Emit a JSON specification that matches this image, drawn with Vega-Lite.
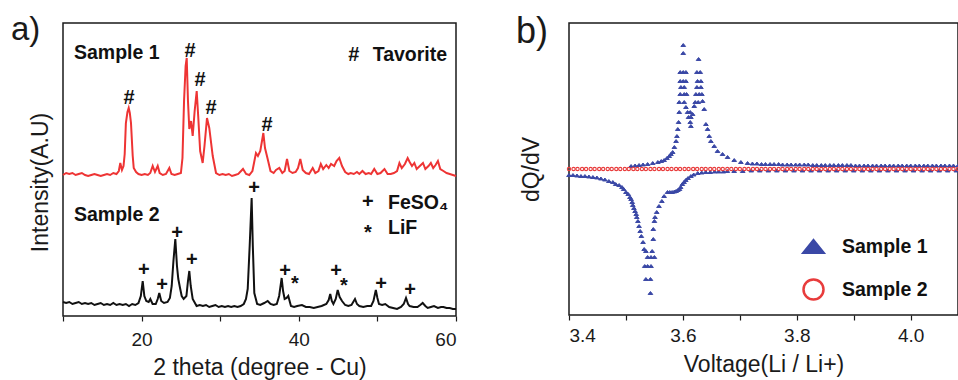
{
  "$schema": "https://vega.github.io/schema/vega-lite/v6.json",
  "background": "white",
  "padding": {"left": 10, "top": 13, "right": 0, "bottom": 0},
  "bounds": "flush",
  "spacing": 113,
  "config": {
    "font": "Liberation Sans",
    "view": {"stroke": "#1a1a1a", "strokeWidth": 1.5},
    "axis": {"domain": false, "grid": false, "tickColor": "#1a1a1a", "tickWidth": 1.2, "tickSize": 5, "labelFont": "Liberation Sans", "labelFontSize": 19, "labelColor": "#1a1a1a", "labelPadding": 4, "titleFont": "Liberation Sans", "titleFontSize": 23, "titleFontWeight": "normal", "titleColor": "#1a1a1a"},
    "title": {"font": "Liberation Sans", "fontWeight": "normal", "anchor": "start", "frame": "group", "baseline": "alphabetic", "color": "#1a1a1a"},
    "legend": {"title": null, "orient": "none", "legendX": 233, "legendY": 212, "symbolSize": 400, "symbolStrokeWidth": 2.5, "labelFont": "Liberation Sans", "labelFontSize": 19.5, "labelFontWeight": "bold", "labelColor": "#111111", "labelOffset": 17, "rowPadding": 16}
  },
  "resolve": {"scale": {"color": "independent", "shape": "independent", "fill": "independent", "stroke": "independent"}},
  "datasets": {
    "xrd": [
      {"sample":"Sample 1","theta":10,"intensity":141},{"sample":"Sample 1","theta":10.4,"intensity":143},{"sample":"Sample 1","theta":10.8,"intensity":142},{"sample":"Sample 1","theta":11.2,"intensity":143},{"sample":"Sample 1","theta":11.6,"intensity":141},{"sample":"Sample 1","theta":12,"intensity":142},{"sample":"Sample 1","theta":12.4,"intensity":143},{"sample":"Sample 1","theta":12.8,"intensity":141},{"sample":"Sample 1","theta":13.2,"intensity":140},{"sample":"Sample 1","theta":13.6,"intensity":141},{"sample":"Sample 1","theta":14,"intensity":142},{"sample":"Sample 1","theta":14.4,"intensity":141},{"sample":"Sample 1","theta":14.8,"intensity":140},{"sample":"Sample 1","theta":15.2,"intensity":141},{"sample":"Sample 1","theta":15.6,"intensity":142},{"sample":"Sample 1","theta":16,"intensity":141},{"sample":"Sample 1","theta":16.4,"intensity":143},{"sample":"Sample 1","theta":16.8,"intensity":142},{"sample":"Sample 1","theta":17.1,"intensity":145},{"sample":"Sample 1","theta":17.29,"intensity":153},{"sample":"Sample 1","theta":17.5,"intensity":146},{"sample":"Sample 1","theta":17.7,"intensity":150},{"sample":"Sample 1","theta":17.85,"intensity":162},{"sample":"Sample 1","theta":18.0,"intensity":193},{"sample":"Sample 1","theta":18.2,"intensity":204},{"sample":"Sample 1","theta":18.36,"intensity":208},{"sample":"Sample 1","theta":18.5,"intensity":203},{"sample":"Sample 1","theta":18.65,"intensity":193},{"sample":"Sample 1","theta":18.87,"intensity":160},{"sample":"Sample 1","theta":19.0,"intensity":148},{"sample":"Sample 1","theta":19.3,"intensity":144},{"sample":"Sample 1","theta":19.6,"intensity":142},{"sample":"Sample 1","theta":20,"intensity":141},{"sample":"Sample 1","theta":20.4,"intensity":142},{"sample":"Sample 1","theta":20.8,"intensity":141},{"sample":"Sample 1","theta":21.1,"intensity":143},{"sample":"Sample 1","theta":21.41,"intensity":150},{"sample":"Sample 1","theta":21.7,"intensity":144},{"sample":"Sample 1","theta":22.05,"intensity":150},{"sample":"Sample 1","theta":22.3,"intensity":143},{"sample":"Sample 1","theta":22.7,"intensity":141},{"sample":"Sample 1","theta":23.1,"intensity":142},{"sample":"Sample 1","theta":23.53,"intensity":148},{"sample":"Sample 1","theta":23.8,"intensity":142},{"sample":"Sample 1","theta":24.2,"intensity":141},{"sample":"Sample 1","theta":24.6,"intensity":142},{"sample":"Sample 1","theta":25.0,"intensity":143},{"sample":"Sample 1","theta":25.2,"intensity":158},{"sample":"Sample 1","theta":25.4,"intensity":215},{"sample":"Sample 1","theta":25.6,"intensity":250},{"sample":"Sample 1","theta":25.74,"intensity":258},{"sample":"Sample 1","theta":25.9,"intensity":215},{"sample":"Sample 1","theta":26.07,"intensity":187},{"sample":"Sample 1","theta":26.29,"intensity":195},{"sample":"Sample 1","theta":26.5,"intensity":180},{"sample":"Sample 1","theta":26.75,"intensity":205},{"sample":"Sample 1","theta":27.01,"intensity":225},{"sample":"Sample 1","theta":27.2,"intensity":200},{"sample":"Sample 1","theta":27.45,"intensity":165},{"sample":"Sample 1","theta":27.77,"intensity":153},{"sample":"Sample 1","theta":28.0,"intensity":170},{"sample":"Sample 1","theta":28.32,"intensity":198},{"sample":"Sample 1","theta":28.61,"intensity":188},{"sample":"Sample 1","theta":29.05,"intensity":160},{"sample":"Sample 1","theta":29.47,"intensity":143},{"sample":"Sample 1","theta":29.9,"intensity":141},{"sample":"Sample 1","theta":30.3,"intensity":142},{"sample":"Sample 1","theta":30.7,"intensity":141},{"sample":"Sample 1","theta":31.1,"intensity":142},{"sample":"Sample 1","theta":31.5,"intensity":140},{"sample":"Sample 1","theta":31.9,"intensity":141},{"sample":"Sample 1","theta":32.3,"intensity":142},{"sample":"Sample 1","theta":32.9,"intensity":147},{"sample":"Sample 1","theta":33.3,"intensity":142},{"sample":"Sample 1","theta":33.7,"intensity":141},{"sample":"Sample 1","theta":34.1,"intensity":145},{"sample":"Sample 1","theta":34.55,"intensity":163},{"sample":"Sample 1","theta":34.8,"intensity":160},{"sample":"Sample 1","theta":35.1,"intensity":165},{"sample":"Sample 1","theta":35.49,"intensity":183},{"sample":"Sample 1","theta":35.7,"intensity":168},{"sample":"Sample 1","theta":36.04,"intensity":157},{"sample":"Sample 1","theta":36.4,"intensity":145},{"sample":"Sample 1","theta":36.8,"intensity":143},{"sample":"Sample 1","theta":37.1,"intensity":146},{"sample":"Sample 1","theta":37.52,"intensity":148},{"sample":"Sample 1","theta":37.9,"intensity":143},{"sample":"Sample 1","theta":38.2,"intensity":145},{"sample":"Sample 1","theta":38.5,"intensity":157},{"sample":"Sample 1","theta":38.8,"intensity":145},{"sample":"Sample 1","theta":39.2,"intensity":143},{"sample":"Sample 1","theta":39.6,"intensity":144},{"sample":"Sample 1","theta":39.9,"intensity":148},{"sample":"Sample 1","theta":40.19,"intensity":157},{"sample":"Sample 1","theta":40.5,"intensity":146},{"sample":"Sample 1","theta":40.9,"intensity":143},{"sample":"Sample 1","theta":41.3,"intensity":142},{"sample":"Sample 1","theta":41.77,"intensity":148},{"sample":"Sample 1","theta":42.1,"intensity":143},{"sample":"Sample 1","theta":42.5,"intensity":145},{"sample":"Sample 1","theta":42.8,"intensity":152},{"sample":"Sample 1","theta":43.1,"intensity":147},{"sample":"Sample 1","theta":43.5,"intensity":151},{"sample":"Sample 1","theta":43.8,"intensity":148},{"sample":"Sample 1","theta":44.1,"intensity":152},{"sample":"Sample 1","theta":44.5,"intensity":150},{"sample":"Sample 1","theta":44.8,"intensity":155},{"sample":"Sample 1","theta":45.15,"intensity":158},{"sample":"Sample 1","theta":45.5,"intensity":150},{"sample":"Sample 1","theta":45.9,"intensity":144},{"sample":"Sample 1","theta":46.3,"intensity":142},{"sample":"Sample 1","theta":46.6,"intensity":143},{"sample":"Sample 1","theta":47.0,"intensity":142},{"sample":"Sample 1","theta":47.4,"intensity":144},{"sample":"Sample 1","theta":47.7,"intensity":142},{"sample":"Sample 1","theta":48.1,"intensity":145},{"sample":"Sample 1","theta":48.5,"intensity":142},{"sample":"Sample 1","theta":48.9,"intensity":143},{"sample":"Sample 1","theta":49.2,"intensity":142},{"sample":"Sample 1","theta":49.6,"intensity":147},{"sample":"Sample 1","theta":50.0,"intensity":142},{"sample":"Sample 1","theta":50.4,"intensity":143},{"sample":"Sample 1","theta":50.9,"intensity":147},{"sample":"Sample 1","theta":51.3,"intensity":142},{"sample":"Sample 1","theta":51.7,"intensity":142},{"sample":"Sample 1","theta":52.1,"intensity":143},{"sample":"Sample 1","theta":52.5,"intensity":145},{"sample":"Sample 1","theta":52.8,"intensity":153},{"sample":"Sample 1","theta":53.1,"intensity":148},{"sample":"Sample 1","theta":53.5,"intensity":152},{"sample":"Sample 1","theta":53.85,"intensity":158},{"sample":"Sample 1","theta":54.1,"intensity":154},{"sample":"Sample 1","theta":54.4,"intensity":150},{"sample":"Sample 1","theta":54.7,"intensity":153},{"sample":"Sample 1","theta":55.0,"intensity":147},{"sample":"Sample 1","theta":55.4,"intensity":150},{"sample":"Sample 1","theta":55.8,"intensity":153},{"sample":"Sample 1","theta":56.1,"intensity":147},{"sample":"Sample 1","theta":56.5,"intensity":150},{"sample":"Sample 1","theta":56.8,"intensity":153},{"sample":"Sample 1","theta":57.1,"intensity":148},{"sample":"Sample 1","theta":57.4,"intensity":151},{"sample":"Sample 1","theta":57.7,"intensity":155},{"sample":"Sample 1","theta":58.0,"intensity":147},{"sample":"Sample 1","theta":58.4,"intensity":145},{"sample":"Sample 1","theta":58.8,"intensity":143},{"sample":"Sample 1","theta":59.2,"intensity":142},{"sample":"Sample 1","theta":59.6,"intensity":141},{"sample":"Sample 1","theta":60,"intensity":140},
      {"sample":"Sample 2","theta":10,"intensity":14},{"sample":"Sample 2","theta":10.4,"intensity":13},{"sample":"Sample 2","theta":10.8,"intensity":14},{"sample":"Sample 2","theta":11.2,"intensity":12},{"sample":"Sample 2","theta":11.6,"intensity":13},{"sample":"Sample 2","theta":12,"intensity":14},{"sample":"Sample 2","theta":12.4,"intensity":12},{"sample":"Sample 2","theta":12.8,"intensity":13},{"sample":"Sample 2","theta":13.2,"intensity":12},{"sample":"Sample 2","theta":13.6,"intensity":13},{"sample":"Sample 2","theta":14,"intensity":11},{"sample":"Sample 2","theta":14.4,"intensity":12},{"sample":"Sample 2","theta":14.8,"intensity":13},{"sample":"Sample 2","theta":15.2,"intensity":11},{"sample":"Sample 2","theta":15.6,"intensity":12},{"sample":"Sample 2","theta":16,"intensity":11},{"sample":"Sample 2","theta":16.4,"intensity":13},{"sample":"Sample 2","theta":16.8,"intensity":11},{"sample":"Sample 2","theta":17.2,"intensity":12},{"sample":"Sample 2","theta":17.6,"intensity":11},{"sample":"Sample 2","theta":18,"intensity":12},{"sample":"Sample 2","theta":18.4,"intensity":10},{"sample":"Sample 2","theta":18.8,"intensity":12},{"sample":"Sample 2","theta":19.2,"intensity":11},{"sample":"Sample 2","theta":19.6,"intensity":13},{"sample":"Sample 2","theta":19.9,"intensity":20},{"sample":"Sample 2","theta":20.14,"intensity":35},{"sample":"Sample 2","theta":20.35,"intensity":20},{"sample":"Sample 2","theta":20.6,"intensity":15},{"sample":"Sample 2","theta":20.9,"intensity":14},{"sample":"Sample 2","theta":21.11,"intensity":17},{"sample":"Sample 2","theta":21.4,"intensity":12},{"sample":"Sample 2","theta":21.8,"intensity":12},{"sample":"Sample 2","theta":22.05,"intensity":17},{"sample":"Sample 2","theta":22.25,"intensity":23},{"sample":"Sample 2","theta":22.5,"intensity":15},{"sample":"Sample 2","theta":22.85,"intensity":13},{"sample":"Sample 2","theta":23.3,"intensity":14},{"sample":"Sample 2","theta":23.6,"intensity":18},{"sample":"Sample 2","theta":23.83,"intensity":30},{"sample":"Sample 2","theta":24.05,"intensity":55},{"sample":"Sample 2","theta":24.29,"intensity":77},{"sample":"Sample 2","theta":24.5,"intensity":50},{"sample":"Sample 2","theta":24.67,"intensity":37},{"sample":"Sample 2","theta":24.89,"intensity":28},{"sample":"Sample 2","theta":25.1,"intensity":20},{"sample":"Sample 2","theta":25.35,"intensity":17},{"sample":"Sample 2","theta":25.7,"intensity":20},{"sample":"Sample 2","theta":25.9,"intensity":35},{"sample":"Sample 2","theta":26.07,"intensity":45},{"sample":"Sample 2","theta":26.25,"intensity":30},{"sample":"Sample 2","theta":26.5,"intensity":17},{"sample":"Sample 2","theta":27,"intensity":10},{"sample":"Sample 2","theta":27.4,"intensity":11},{"sample":"Sample 2","theta":27.8,"intensity":10},{"sample":"Sample 2","theta":28.2,"intensity":11},{"sample":"Sample 2","theta":28.6,"intensity":9},{"sample":"Sample 2","theta":29,"intensity":10},{"sample":"Sample 2","theta":29.4,"intensity":11},{"sample":"Sample 2","theta":29.8,"intensity":9},{"sample":"Sample 2","theta":30.2,"intensity":10},{"sample":"Sample 2","theta":30.6,"intensity":9},{"sample":"Sample 2","theta":31,"intensity":10},{"sample":"Sample 2","theta":31.4,"intensity":9},{"sample":"Sample 2","theta":31.8,"intensity":10},{"sample":"Sample 2","theta":32.2,"intensity":9},{"sample":"Sample 2","theta":32.6,"intensity":10},{"sample":"Sample 2","theta":33,"intensity":12},{"sample":"Sample 2","theta":33.28,"intensity":17},{"sample":"Sample 2","theta":33.5,"intensity":27},{"sample":"Sample 2","theta":33.75,"intensity":70},{"sample":"Sample 2","theta":34.0,"intensity":118},{"sample":"Sample 2","theta":34.15,"intensity":70},{"sample":"Sample 2","theta":34.34,"intensity":23},{"sample":"Sample 2","theta":34.7,"intensity":12},{"sample":"Sample 2","theta":35.1,"intensity":11},{"sample":"Sample 2","theta":35.6,"intensity":13},{"sample":"Sample 2","theta":36.04,"intensity":15},{"sample":"Sample 2","theta":36.4,"intensity":12},{"sample":"Sample 2","theta":36.8,"intensity":11},{"sample":"Sample 2","theta":37.2,"intensity":12},{"sample":"Sample 2","theta":37.5,"intensity":20},{"sample":"Sample 2","theta":37.82,"intensity":38},{"sample":"Sample 2","theta":38.0,"intensity":25},{"sample":"Sample 2","theta":38.2,"intensity":17},{"sample":"Sample 2","theta":38.45,"intensity":18},{"sample":"Sample 2","theta":38.66,"intensity":20},{"sample":"Sample 2","theta":39.0,"intensity":10},{"sample":"Sample 2","theta":39.4,"intensity":9},{"sample":"Sample 2","theta":39.8,"intensity":10},{"sample":"Sample 2","theta":40.4,"intensity":11},{"sample":"Sample 2","theta":40.9,"intensity":9},{"sample":"Sample 2","theta":41.4,"intensity":9},{"sample":"Sample 2","theta":41.9,"intensity":8},{"sample":"Sample 2","theta":42.4,"intensity":9},{"sample":"Sample 2","theta":42.9,"intensity":10},{"sample":"Sample 2","theta":43.5,"intensity":12},{"sample":"Sample 2","theta":43.8,"intensity":16},{"sample":"Sample 2","theta":44.0,"intensity":22},{"sample":"Sample 2","theta":44.2,"intensity":15},{"sample":"Sample 2","theta":44.4,"intensity":12},{"sample":"Sample 2","theta":44.7,"intensity":17},{"sample":"Sample 2","theta":44.95,"intensity":26},{"sample":"Sample 2","theta":45.2,"intensity":19},{"sample":"Sample 2","theta":45.5,"intensity":15},{"sample":"Sample 2","theta":45.9,"intensity":11},{"sample":"Sample 2","theta":46.3,"intensity":10},{"sample":"Sample 2","theta":46.7,"intensity":11},{"sample":"Sample 2","theta":47.15,"intensity":17},{"sample":"Sample 2","theta":47.4,"intensity":12},{"sample":"Sample 2","theta":47.7,"intensity":10},{"sample":"Sample 2","theta":48.2,"intensity":9},{"sample":"Sample 2","theta":48.7,"intensity":10},{"sample":"Sample 2","theta":49.2,"intensity":10},{"sample":"Sample 2","theta":49.5,"intensity":15},{"sample":"Sample 2","theta":49.8,"intensity":26},{"sample":"Sample 2","theta":50.0,"intensity":18},{"sample":"Sample 2","theta":50.2,"intensity":12},{"sample":"Sample 2","theta":50.6,"intensity":11},{"sample":"Sample 2","theta":51.0,"intensity":12},{"sample":"Sample 2","theta":51.5,"intensity":9},{"sample":"Sample 2","theta":52.0,"intensity":8},{"sample":"Sample 2","theta":52.5,"intensity":7},{"sample":"Sample 2","theta":53.0,"intensity":9},{"sample":"Sample 2","theta":53.35,"intensity":12},{"sample":"Sample 2","theta":53.64,"intensity":18},{"sample":"Sample 2","theta":53.9,"intensity":12},{"sample":"Sample 2","theta":54.1,"intensity":10},{"sample":"Sample 2","theta":54.6,"intensity":9},{"sample":"Sample 2","theta":55.1,"intensity":9},{"sample":"Sample 2","theta":55.45,"intensity":11},{"sample":"Sample 2","theta":55.76,"intensity":13},{"sample":"Sample 2","theta":56.1,"intensity":10},{"sample":"Sample 2","theta":56.4,"intensity":8},{"sample":"Sample 2","theta":56.8,"intensity":9},{"sample":"Sample 2","theta":57.2,"intensity":10},{"sample":"Sample 2","theta":57.7,"intensity":8},{"sample":"Sample 2","theta":58.1,"intensity":9},{"sample":"Sample 2","theta":58.4,"intensity":9},{"sample":"Sample 2","theta":58.8,"intensity":8},{"sample":"Sample 2","theta":59.2,"intensity":8},{"sample":"Sample 2","theta":59.6,"intensity":7},{"sample":"Sample 2","theta":60,"intensity":7}
    ],
    "xrdLabels": [
      {"role":"marker","text":"#","theta":18.4,"intensity":212},
      {"role":"marker","text":"#","theta":26.16,"intensity":259},
      {"role":"marker","text":"#","theta":27.43,"intensity":230},
      {"role":"marker","text":"#","theta":28.83,"intensity":202},
      {"role":"marker","text":"#","theta":35.95,"intensity":185},
      {"role":"marker","text":"#","theta":47.0,"intensity":255},
      {"role":"label","text":"Tavorite","theta":49.4,"intensity":255},
      {"role":"label","text":"Sample 1","theta":11.4,"intensity":257},
      {"role":"label","text":"Sample 2","theta":11.4,"intensity":95},
      {"role":"marker","text":"+","theta":34.3,"intensity":122},
      {"role":"marker","text":"+","theta":20.3,"intensity":40},
      {"role":"marker","text":"+","theta":22.6,"intensity":25},
      {"role":"marker","text":"+","theta":24.5,"intensity":77},
      {"role":"marker","text":"+","theta":26.4,"intensity":50},
      {"role":"marker","text":"+","theta":38.25,"intensity":39},
      {"role":"marker","text":"*","theta":39.5,"intensity":26},
      {"role":"marker","text":"+","theta":44.73,"intensity":39},
      {"role":"marker","text":"*","theta":45.75,"intensity":24},
      {"role":"marker","text":"+","theta":50.46,"intensity":26},
      {"role":"marker","text":"+","theta":54.15,"intensity":20},
      {"role":"marker","text":"+","theta":48.8,"intensity":108},
      {"role":"label","text":"FeSO₄","theta":51.35,"intensity":107},
      {"role":"marker","text":"*","theta":48.8,"intensity":77},
      {"role":"label","text":"LiF","theta":51.35,"intensity":82}
    ],
    "dqdv": [
      {"sample":"Sample 1","voltage":3.400,"dQdV":-6},{"sample":"Sample 1","voltage":3.407,"dQdV":-6},{"sample":"Sample 1","voltage":3.414,"dQdV":-6.5},{"sample":"Sample 1","voltage":3.421,"dQdV":-7},{"sample":"Sample 1","voltage":3.428,"dQdV":-7},{"sample":"Sample 1","voltage":3.435,"dQdV":-7.5},{"sample":"Sample 1","voltage":3.442,"dQdV":-8},{"sample":"Sample 1","voltage":3.449,"dQdV":-8.5},{"sample":"Sample 1","voltage":3.456,"dQdV":-9.5},{"sample":"Sample 1","voltage":3.463,"dQdV":-10.5},{"sample":"Sample 1","voltage":3.470,"dQdV":-12},{"sample":"Sample 1","voltage":3.477,"dQdV":-13},{"sample":"Sample 1","voltage":3.482,"dQdV":-15},{"sample":"Sample 1","voltage":3.488,"dQdV":-16},{"sample":"Sample 1","voltage":3.493,"dQdV":-18},{"sample":"Sample 1","voltage":3.496,"dQdV":-20},{"sample":"Sample 1","voltage":3.500,"dQdV":-23},{"sample":"Sample 1","voltage":3.504,"dQdV":-25},{"sample":"Sample 1","voltage":3.507,"dQdV":-28},{"sample":"Sample 1","voltage":3.509,"dQdV":-30},{"sample":"Sample 1","voltage":3.511,"dQdV":-33},{"sample":"Sample 1","voltage":3.512,"dQdV":-36},{"sample":"Sample 1","voltage":3.514,"dQdV":-39},{"sample":"Sample 1","voltage":3.516,"dQdV":-42},{"sample":"Sample 1","voltage":3.518,"dQdV":-45},{"sample":"Sample 1","voltage":3.519,"dQdV":-48},{"sample":"Sample 1","voltage":3.521,"dQdV":-52},{"sample":"Sample 1","voltage":3.523,"dQdV":-57},{"sample":"Sample 1","voltage":3.525,"dQdV":-62},{"sample":"Sample 1","voltage":3.527,"dQdV":-67},{"sample":"Sample 1","voltage":3.530,"dQdV":-73},{"sample":"Sample 1","voltage":3.532,"dQdV":-80},{"sample":"Sample 1","voltage":3.533,"dQdV":-97},{"sample":"Sample 1","voltage":3.538,"dQdV":-97},{"sample":"Sample 1","voltage":3.544,"dQdV":-97},{"sample":"Sample 1","voltage":3.538,"dQdV":-88},{"sample":"Sample 1","voltage":3.544,"dQdV":-88},{"sample":"Sample 1","voltage":3.550,"dQdV":-88},{"sample":"Sample 1","voltage":3.535,"dQdV":-82},{"sample":"Sample 1","voltage":3.546,"dQdV":-82},{"sample":"Sample 1","voltage":3.535,"dQdV":-110},{"sample":"Sample 1","voltage":3.543,"dQdV":-110},{"sample":"Sample 1","voltage":3.543,"dQdV":-124},{"sample":"Sample 1","voltage":3.548,"dQdV":-70},{"sample":"Sample 1","voltage":3.548,"dQdV":-60},{"sample":"Sample 1","voltage":3.550,"dQdV":-52},{"sample":"Sample 1","voltage":3.551,"dQdV":-48},{"sample":"Sample 1","voltage":3.554,"dQdV":-43},{"sample":"Sample 1","voltage":3.558,"dQdV":-37},{"sample":"Sample 1","voltage":3.563,"dQdV":-32},{"sample":"Sample 1","voltage":3.567,"dQdV":-27},{"sample":"Sample 1","voltage":3.573,"dQdV":-23},{"sample":"Sample 1","voltage":3.577,"dQdV":-23},{"sample":"Sample 1","voltage":3.581,"dQdV":-23},{"sample":"Sample 1","voltage":3.585,"dQdV":-22.5},{"sample":"Sample 1","voltage":3.588,"dQdV":-22},{"sample":"Sample 1","voltage":3.591,"dQdV":-21},{"sample":"Sample 1","voltage":3.594,"dQdV":-20},{"sample":"Sample 1","voltage":3.596,"dQdV":-18},{"sample":"Sample 1","voltage":3.599,"dQdV":-15},{"sample":"Sample 1","voltage":3.602,"dQdV":-13},{"sample":"Sample 1","voltage":3.605,"dQdV":-11},{"sample":"Sample 1","voltage":3.609,"dQdV":-9},{"sample":"Sample 1","voltage":3.614,"dQdV":-7},{"sample":"Sample 1","voltage":3.619,"dQdV":-5.5},{"sample":"Sample 1","voltage":3.626,"dQdV":-4},{"sample":"Sample 1","voltage":3.633,"dQdV":-3.5},{"sample":"Sample 1","voltage":3.640,"dQdV":-3},{"sample":"Sample 1","voltage":3.648,"dQdV":-3},{"sample":"Sample 1","voltage":3.656,"dQdV":-2.5},{"sample":"Sample 1","voltage":3.663,"dQdV":-2.5},{"sample":"Sample 1","voltage":3.671,"dQdV":-2.5},{"sample":"Sample 1","voltage":3.678,"dQdV":-2},{"sample":"Sample 1","voltage":3.690,"dQdV":-2},{"sample":"Sample 1","voltage":3.705,"dQdV":-2},{"sample":"Sample 1","voltage":3.720,"dQdV":-1.5},{"sample":"Sample 1","voltage":3.735,"dQdV":-1.5},{"sample":"Sample 1","voltage":3.750,"dQdV":-1.5},{"sample":"Sample 1","voltage":3.765,"dQdV":-1.5},{"sample":"Sample 1","voltage":3.780,"dQdV":-1.5},{"sample":"Sample 1","voltage":3.795,"dQdV":-1.5},{"sample":"Sample 1","voltage":3.810,"dQdV":-1.5},{"sample":"Sample 1","voltage":3.825,"dQdV":-1.5},{"sample":"Sample 1","voltage":3.840,"dQdV":-1.5},{"sample":"Sample 1","voltage":3.855,"dQdV":-1.5},{"sample":"Sample 1","voltage":3.870,"dQdV":-1.5},{"sample":"Sample 1","voltage":3.885,"dQdV":-1.5},{"sample":"Sample 1","voltage":3.900,"dQdV":-1.5},{"sample":"Sample 1","voltage":3.915,"dQdV":-1.5},{"sample":"Sample 1","voltage":3.930,"dQdV":-1.5},{"sample":"Sample 1","voltage":3.945,"dQdV":-1.5},{"sample":"Sample 1","voltage":3.960,"dQdV":-1.5},{"sample":"Sample 1","voltage":3.975,"dQdV":-1.5},{"sample":"Sample 1","voltage":3.990,"dQdV":-1.5},{"sample":"Sample 1","voltage":4.005,"dQdV":-1.5},{"sample":"Sample 1","voltage":4.020,"dQdV":-1.5},{"sample":"Sample 1","voltage":4.035,"dQdV":-1.5},{"sample":"Sample 1","voltage":4.050,"dQdV":-1.5},{"sample":"Sample 1","voltage":4.065,"dQdV":-1.5},{"sample":"Sample 1","voltage":4.080,"dQdV":-1.5},
      {"sample":"Sample 1","voltage":3.509,"dQdV":3},{"sample":"Sample 1","voltage":3.516,"dQdV":3.5},{"sample":"Sample 1","voltage":3.523,"dQdV":4},{"sample":"Sample 1","voltage":3.530,"dQdV":4.5},{"sample":"Sample 1","voltage":3.538,"dQdV":5},{"sample":"Sample 1","voltage":3.547,"dQdV":6},{"sample":"Sample 1","voltage":3.556,"dQdV":7},{"sample":"Sample 1","voltage":3.562,"dQdV":8},{"sample":"Sample 1","voltage":3.567,"dQdV":9},{"sample":"Sample 1","voltage":3.572,"dQdV":11},{"sample":"Sample 1","voltage":3.576,"dQdV":13},{"sample":"Sample 1","voltage":3.579,"dQdV":15},{"sample":"Sample 1","voltage":3.582,"dQdV":17},{"sample":"Sample 1","voltage":3.585,"dQdV":22},{"sample":"Sample 1","voltage":3.588,"dQdV":28},{"sample":"Sample 1","voltage":3.5895,"dQdV":33},{"sample":"Sample 1","voltage":3.591,"dQdV":40},{"sample":"Sample 1","voltage":3.5924,"dQdV":47},{"sample":"Sample 1","voltage":3.5936,"dQdV":57},{"sample":"Sample 1","voltage":3.5936,"dQdV":67},{"sample":"Sample 1","voltage":3.6023,"dQdV":67},{"sample":"Sample 1","voltage":3.5953,"dQdV":75},{"sample":"Sample 1","voltage":3.6023,"dQdV":75},{"sample":"Sample 1","voltage":3.6064,"dQdV":75},{"sample":"Sample 1","voltage":3.5965,"dQdV":82},{"sample":"Sample 1","voltage":3.6023,"dQdV":82},{"sample":"Sample 1","voltage":3.5953,"dQdV":88},{"sample":"Sample 1","voltage":3.6006,"dQdV":88},{"sample":"Sample 1","voltage":3.6053,"dQdV":88},{"sample":"Sample 1","voltage":3.5953,"dQdV":97},{"sample":"Sample 1","voltage":3.6006,"dQdV":97},{"sample":"Sample 1","voltage":3.6053,"dQdV":97},{"sample":"Sample 1","voltage":3.6006,"dQdV":116},{"sample":"Sample 1","voltage":3.6006,"dQdV":124},{"sample":"Sample 1","voltage":3.6053,"dQdV":62},{"sample":"Sample 1","voltage":3.6082,"dQdV":57},{"sample":"Sample 1","voltage":3.6129,"dQdV":57},{"sample":"Sample 1","voltage":3.6099,"dQdV":52},{"sample":"Sample 1","voltage":3.614,"dQdV":52},{"sample":"Sample 1","voltage":3.6129,"dQdV":47},{"sample":"Sample 1","voltage":3.614,"dQdV":43},{"sample":"Sample 1","voltage":3.617,"dQdV":55},{"sample":"Sample 1","voltage":3.6199,"dQdV":63},{"sample":"Sample 1","voltage":3.6216,"dQdV":67},{"sample":"Sample 1","voltage":3.6269,"dQdV":67},{"sample":"Sample 1","voltage":3.6228,"dQdV":75},{"sample":"Sample 1","voltage":3.6286,"dQdV":75},{"sample":"Sample 1","voltage":3.6333,"dQdV":75},{"sample":"Sample 1","voltage":3.6246,"dQdV":82},{"sample":"Sample 1","voltage":3.6316,"dQdV":82},{"sample":"Sample 1","voltage":3.6257,"dQdV":88},{"sample":"Sample 1","voltage":3.6316,"dQdV":88},{"sample":"Sample 1","voltage":3.6246,"dQdV":97},{"sample":"Sample 1","voltage":3.6304,"dQdV":97},{"sample":"Sample 1","voltage":3.6275,"dQdV":110},{"sample":"Sample 1","voltage":3.6345,"dQdV":68},{"sample":"Sample 1","voltage":3.6374,"dQdV":60},{"sample":"Sample 1","voltage":3.6404,"dQdV":45},{"sample":"Sample 1","voltage":3.6433,"dQdV":40},{"sample":"Sample 1","voltage":3.6462,"dQdV":33},{"sample":"Sample 1","voltage":3.6491,"dQdV":28},{"sample":"Sample 1","voltage":3.655,"dQdV":23},{"sample":"Sample 1","voltage":3.6608,"dQdV":18},{"sample":"Sample 1","voltage":3.6696,"dQdV":15},{"sample":"Sample 1","voltage":3.6784,"dQdV":12},{"sample":"Sample 1","voltage":3.6901,"dQdV":9},{"sample":"Sample 1","voltage":3.7018,"dQdV":7},{"sample":"Sample 1","voltage":3.7135,"dQdV":6},{"sample":"Sample 1","voltage":3.722,"dQdV":5.5},{"sample":"Sample 1","voltage":3.730,"dQdV":5.5},{"sample":"Sample 1","voltage":3.738,"dQdV":5},{"sample":"Sample 1","voltage":3.745,"dQdV":5},{"sample":"Sample 1","voltage":3.753,"dQdV":5},{"sample":"Sample 1","voltage":3.760,"dQdV":5},{"sample":"Sample 1","voltage":3.768,"dQdV":5},{"sample":"Sample 1","voltage":3.775,"dQdV":4.5},{"sample":"Sample 1","voltage":3.783,"dQdV":4.5},{"sample":"Sample 1","voltage":3.790,"dQdV":4.5},{"sample":"Sample 1","voltage":3.798,"dQdV":4.5},{"sample":"Sample 1","voltage":3.805,"dQdV":4.5},{"sample":"Sample 1","voltage":3.813,"dQdV":4.5},{"sample":"Sample 1","voltage":3.820,"dQdV":4.5},{"sample":"Sample 1","voltage":3.828,"dQdV":4},{"sample":"Sample 1","voltage":3.835,"dQdV":4},{"sample":"Sample 1","voltage":3.843,"dQdV":4},{"sample":"Sample 1","voltage":3.850,"dQdV":4},{"sample":"Sample 1","voltage":3.858,"dQdV":4},{"sample":"Sample 1","voltage":3.865,"dQdV":4},{"sample":"Sample 1","voltage":3.873,"dQdV":4},{"sample":"Sample 1","voltage":3.880,"dQdV":4},{"sample":"Sample 1","voltage":3.888,"dQdV":4},{"sample":"Sample 1","voltage":3.895,"dQdV":4},{"sample":"Sample 1","voltage":3.903,"dQdV":3.5},{"sample":"Sample 1","voltage":3.910,"dQdV":3.5},{"sample":"Sample 1","voltage":3.918,"dQdV":3.5},{"sample":"Sample 1","voltage":3.925,"dQdV":3.5},{"sample":"Sample 1","voltage":3.933,"dQdV":3.5},{"sample":"Sample 1","voltage":3.940,"dQdV":3.5},{"sample":"Sample 1","voltage":3.948,"dQdV":3.5},{"sample":"Sample 1","voltage":3.955,"dQdV":3.5},{"sample":"Sample 1","voltage":3.963,"dQdV":3.5},{"sample":"Sample 1","voltage":3.970,"dQdV":3.5},{"sample":"Sample 1","voltage":3.978,"dQdV":3.5},{"sample":"Sample 1","voltage":3.985,"dQdV":3.5},{"sample":"Sample 1","voltage":3.993,"dQdV":3.5},{"sample":"Sample 1","voltage":4.000,"dQdV":3.5},{"sample":"Sample 1","voltage":4.008,"dQdV":3.5},{"sample":"Sample 1","voltage":4.015,"dQdV":3.5},{"sample":"Sample 1","voltage":4.023,"dQdV":3.5},{"sample":"Sample 1","voltage":4.030,"dQdV":3.5},{"sample":"Sample 1","voltage":4.038,"dQdV":3.5},{"sample":"Sample 1","voltage":4.045,"dQdV":3.5},{"sample":"Sample 1","voltage":4.053,"dQdV":3.5},{"sample":"Sample 1","voltage":4.060,"dQdV":3.5},{"sample":"Sample 1","voltage":4.068,"dQdV":3.5},{"sample":"Sample 1","voltage":4.075,"dQdV":3.5},{"sample":"Sample 1","voltage":4.083,"dQdV":3.5},
      {"sample":"Sample 2","voltage":3.400,"dQdV":0},{"sample":"Sample 2","voltage":3.408,"dQdV":0},{"sample":"Sample 2","voltage":3.415,"dQdV":0},{"sample":"Sample 2","voltage":3.423,"dQdV":0},{"sample":"Sample 2","voltage":3.430,"dQdV":0},{"sample":"Sample 2","voltage":3.438,"dQdV":0},{"sample":"Sample 2","voltage":3.445,"dQdV":0},{"sample":"Sample 2","voltage":3.453,"dQdV":0},{"sample":"Sample 2","voltage":3.460,"dQdV":0},{"sample":"Sample 2","voltage":3.468,"dQdV":0},{"sample":"Sample 2","voltage":3.475,"dQdV":0},{"sample":"Sample 2","voltage":3.483,"dQdV":0},{"sample":"Sample 2","voltage":3.490,"dQdV":0},{"sample":"Sample 2","voltage":3.498,"dQdV":0},{"sample":"Sample 2","voltage":3.505,"dQdV":0},{"sample":"Sample 2","voltage":3.513,"dQdV":0},{"sample":"Sample 2","voltage":3.520,"dQdV":0},{"sample":"Sample 2","voltage":3.528,"dQdV":0},{"sample":"Sample 2","voltage":3.535,"dQdV":0},{"sample":"Sample 2","voltage":3.543,"dQdV":0},{"sample":"Sample 2","voltage":3.550,"dQdV":0},{"sample":"Sample 2","voltage":3.558,"dQdV":0},{"sample":"Sample 2","voltage":3.565,"dQdV":0},{"sample":"Sample 2","voltage":3.573,"dQdV":0},{"sample":"Sample 2","voltage":3.580,"dQdV":0},{"sample":"Sample 2","voltage":3.588,"dQdV":0},{"sample":"Sample 2","voltage":3.595,"dQdV":0},{"sample":"Sample 2","voltage":3.603,"dQdV":0},{"sample":"Sample 2","voltage":3.610,"dQdV":0},{"sample":"Sample 2","voltage":3.618,"dQdV":0},{"sample":"Sample 2","voltage":3.625,"dQdV":0},{"sample":"Sample 2","voltage":3.633,"dQdV":0},{"sample":"Sample 2","voltage":3.640,"dQdV":0},{"sample":"Sample 2","voltage":3.648,"dQdV":0},{"sample":"Sample 2","voltage":3.655,"dQdV":0},{"sample":"Sample 2","voltage":3.663,"dQdV":0},{"sample":"Sample 2","voltage":3.670,"dQdV":0},{"sample":"Sample 2","voltage":3.678,"dQdV":0},{"sample":"Sample 2","voltage":3.685,"dQdV":0},{"sample":"Sample 2","voltage":3.693,"dQdV":0},{"sample":"Sample 2","voltage":3.700,"dQdV":0},{"sample":"Sample 2","voltage":3.708,"dQdV":0},{"sample":"Sample 2","voltage":3.715,"dQdV":0},{"sample":"Sample 2","voltage":3.723,"dQdV":0},{"sample":"Sample 2","voltage":3.730,"dQdV":0},{"sample":"Sample 2","voltage":3.738,"dQdV":0},{"sample":"Sample 2","voltage":3.745,"dQdV":0},{"sample":"Sample 2","voltage":3.753,"dQdV":0},{"sample":"Sample 2","voltage":3.760,"dQdV":0},{"sample":"Sample 2","voltage":3.768,"dQdV":0},{"sample":"Sample 2","voltage":3.775,"dQdV":0},{"sample":"Sample 2","voltage":3.783,"dQdV":0},{"sample":"Sample 2","voltage":3.790,"dQdV":0},{"sample":"Sample 2","voltage":3.798,"dQdV":0},{"sample":"Sample 2","voltage":3.805,"dQdV":0},{"sample":"Sample 2","voltage":3.813,"dQdV":0},{"sample":"Sample 2","voltage":3.820,"dQdV":0},{"sample":"Sample 2","voltage":3.828,"dQdV":0},{"sample":"Sample 2","voltage":3.835,"dQdV":0},{"sample":"Sample 2","voltage":3.843,"dQdV":0},{"sample":"Sample 2","voltage":3.850,"dQdV":0},{"sample":"Sample 2","voltage":3.858,"dQdV":0},{"sample":"Sample 2","voltage":3.865,"dQdV":0},{"sample":"Sample 2","voltage":3.873,"dQdV":0},{"sample":"Sample 2","voltage":3.880,"dQdV":0},{"sample":"Sample 2","voltage":3.888,"dQdV":0},{"sample":"Sample 2","voltage":3.895,"dQdV":0},{"sample":"Sample 2","voltage":3.903,"dQdV":0},{"sample":"Sample 2","voltage":3.910,"dQdV":0},{"sample":"Sample 2","voltage":3.918,"dQdV":0},{"sample":"Sample 2","voltage":3.925,"dQdV":0},{"sample":"Sample 2","voltage":3.933,"dQdV":0},{"sample":"Sample 2","voltage":3.940,"dQdV":0},{"sample":"Sample 2","voltage":3.948,"dQdV":0},{"sample":"Sample 2","voltage":3.955,"dQdV":0},{"sample":"Sample 2","voltage":3.963,"dQdV":0},{"sample":"Sample 2","voltage":3.970,"dQdV":0},{"sample":"Sample 2","voltage":3.978,"dQdV":0},{"sample":"Sample 2","voltage":3.985,"dQdV":0},{"sample":"Sample 2","voltage":3.993,"dQdV":0},{"sample":"Sample 2","voltage":4.000,"dQdV":0},{"sample":"Sample 2","voltage":4.008,"dQdV":0},{"sample":"Sample 2","voltage":4.015,"dQdV":0},{"sample":"Sample 2","voltage":4.023,"dQdV":0},{"sample":"Sample 2","voltage":4.030,"dQdV":0},{"sample":"Sample 2","voltage":4.038,"dQdV":0},{"sample":"Sample 2","voltage":4.045,"dQdV":0},{"sample":"Sample 2","voltage":4.053,"dQdV":0},{"sample":"Sample 2","voltage":4.060,"dQdV":0},{"sample":"Sample 2","voltage":4.068,"dQdV":0},{"sample":"Sample 2","voltage":4.075,"dQdV":0},{"sample":"Sample 2","voltage":4.083,"dQdV":0}
    ]
  },
  "hconcat": [
    {
      "width": 393,
      "height": 293,
      "title": {"text": "a)", "fontSize": 33, "dx": -52, "offset": -24},
      "layer": [
        {
          "data": {"name": "xrd"},
          "mark": {"type": "line", "strokeWidth": 2},
          "encoding": {
            "x": {"field": "theta", "type": "quantitative", "scale": {"domain": [10, 60], "nice": false, "zero": false}, "axis": {"title": "2 theta (degree - Cu)", "values": [10, 20, 30, 40, 50, 60], "labelExpr": "datum.value == 20 || datum.value == 40 || datum.value == 60 ? datum.label : ''", "labelPadding": 9, "titlePadding": 7}},
            "y": {"field": "intensity", "type": "quantitative", "scale": {"domain": [0, 293], "nice": false}, "axis": {"title": "Intensity(A.U)", "labels": false, "ticks": false, "titlePadding": 11, "titleY": 159}},
            "color": {"field": "sample", "type": "nominal", "scale": {"domain": ["Sample 1", "Sample 2"], "range": ["#ee3434", "#111111"]}, "legend": null}
          }
        },
        {
          "data": {"name": "xrdLabels"},
          "transform": [{"filter": "datum.role == 'marker'"}],
          "mark": {"type": "text", "align": "center", "baseline": "alphabetic", "fontWeight": "bold", "fontSize": 20, "color": "#111111"},
          "encoding": {
            "x": {"field": "theta", "type": "quantitative"},
            "y": {"field": "intensity", "type": "quantitative"},
            "text": {"field": "text"}
          }
        },
        {
          "data": {"name": "xrdLabels"},
          "transform": [{"filter": "datum.role == 'label'"}],
          "mark": {"type": "text", "align": "left", "baseline": "alphabetic", "fontWeight": "bold", "fontSize": 19.5, "color": "#111111"},
          "encoding": {
            "x": {"field": "theta", "type": "quantitative"},
            "y": {"field": "intensity", "type": "quantitative"},
            "text": {"field": "text"}
          }
        }
      ]
    },
    {
      "width": 389,
      "height": 292,
      "title": {"text": "b)", "fontSize": 36, "dx": -53, "offset": -28},
      "data": {"name": "dqdv"},
      "encoding": {
        "x": {"field": "voltage", "type": "quantitative", "scale": {"domain": [3.4, 4.083], "nice": false, "zero": false}, "axis": {"title": "Voltage(Li / Li+)", "values": [3.4, 3.5, 3.6, 3.7, 3.8, 3.9, 4.0], "format": ".1f", "labelExpr": "round(datum.value * 10) % 2 == 0 ? datum.label : ''", "labelPadding": 6, "titlePadding": 8}},
        "y": {"field": "dQdV", "type": "quantitative", "scale": {"domain": [-146, 146], "nice": false}, "axis": {"title": "dQ/dV", "labels": false, "ticks": false, "titlePadding": 26}},
        "shape": {"field": "sample", "type": "nominal", "scale": {"domain": ["Sample 1", "Sample 2"], "range": ["M0,-0.62L1,0.62L-1,0.62Z", "circle"]}},
        "fill": {"field": "sample", "type": "nominal", "scale": {"domain": ["Sample 1", "Sample 2"], "range": ["#3a48a6", "transparent"]}},
        "stroke": {"field": "sample", "type": "nominal", "scale": {"domain": ["Sample 1", "Sample 2"], "range": ["#3a48a6", "#e83c3c"]}}
      },
      "layer": [
        {"transform": [{"filter": "datum.sample == 'Sample 1'"}], "mark": {"type": "point", "size": 22, "strokeWidth": 1, "opacity": 1}},
        {"transform": [{"filter": "datum.sample == 'Sample 2'"}], "mark": {"type": "point", "size": 11, "strokeWidth": 1.1, "opacity": 1}}
      ]
    }
  ]
}
